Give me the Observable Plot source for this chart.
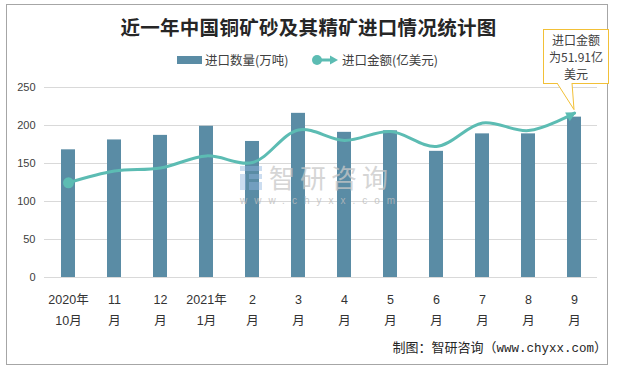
<!DOCTYPE html>
<html>
<head>
<meta charset="utf-8">
<script src="https://cdn.jsdelivr.net/npm/d3@7"></script>
<script src="https://cdn.jsdelivr.net/npm/@observablehq/plot@0.6"></script>
<style>
  html, body { margin: 0; padding: 0; background: #fff; }
  #wrap { position: relative; width: 617px; height: 369px; overflow: hidden; font-family: "Liberation Sans", "Noto Sans CJK SC", sans-serif; }
  #frame { position: absolute; left: 6px; top: 4px; width: 602px; height: 361px; border: 1px solid #a6a6a6; box-sizing: border-box; }
  #title { position: absolute; left: 0; width: 617px; top: 12px; text-align: center; font-family: "Noto Sans CJK SC", sans-serif; font-weight: 700; font-size: 19.5px; color: #262626; letter-spacing: 0.3px; }
  .leg { position: absolute; top: 51px; font-size: 12.5px; color: #404040; font-family: "Noto Sans CJK SC", sans-serif; line-height: 18px; }
  #footer { position: absolute; right: 10px; top: 337px; font-size: 13px; color: #262626; font-family: "Noto Sans CJK SC", sans-serif; }
  #footer .mono { font-family: "Liberation Mono", "DejaVu Sans Mono", monospace; font-size: 12.5px; }
  #callout { position: absolute; box-sizing: border-box; border: 1px solid #f2c037; background: #fff; text-align: center; font-size: 12px; line-height: 17px; color: #404040; font-family: "Noto Sans CJK SC", sans-serif; padding-top: 1px; }
  #wm1 { position: absolute; font-family: "Noto Sans CJK SC", sans-serif; font-size: 26px; line-height: 26px; color: #c8c8c8; opacity: 0.75; letter-spacing: 5px; }
  #wm2 { position: absolute; font-family: "Liberation Sans", sans-serif; font-size: 10px; line-height: 11px; color: #bdbdbd; opacity: 0.8; letter-spacing: 7px; }
  #wmlogo { position: absolute; width: 22px; height: 24px; opacity: 0.45; }
  #plot { position: absolute; left: 0; top: 0; }
  svg { overflow: visible; }
</style>
</head>
<body>
<div id="wrap">
  <div id="frame"></div>
  <div id="plot"></div>
  <div id="title">近一年中国铜矿砂及其精矿进口情况统计图</div>
  <div class="leg" style="left:177px;"><span style="display:inline-block;width:25px;height:8px;background:#5a8ca5;vertical-align:middle;margin-right:3px;margin-top:-3px;"></span>进口数量(万吨)</div>
  <div class="leg" style="left:311px;"><svg width="28" height="12" style="vertical-align:middle;margin-top:-3px;margin-right:3px;overflow:visible"><line x1="6" y1="6" x2="21" y2="6" stroke="#5cbcb3" stroke-width="3"/><circle cx="6" cy="6" r="5" fill="#5cbcb3"/><path d="M19,1.5 L27,6 L19,10.5 Z" fill="#5cbcb3"/></svg>进口金额(亿美元)</div>
  <svg id="wmlogo" viewBox="0 0 22 24"><rect x="0" y="0" width="22" height="5" fill="#8fb4e0"/><rect x="0" y="8" width="6" height="16" fill="#8fb4e0"/><rect x="9" y="8" width="13" height="5" fill="#8fb4e0"/><rect x="9" y="16" width="13" height="8" fill="#8fb4e0"/></svg>
  <div id="wm1">智研咨询</div>
  <div id="wm2">www.chyxx.com</div>
  <div id="footer">制图：智研咨询（<span class="mono">www.chyxx.com</span>）</div>
</div>
<script>
const months = ["2020年\n10月","11\n月","12\n月","2021年\n1月","2\n月","3\n月","4\n月","5\n月","6\n月","7\n月","8\n月","9\n月"];
const qty = [168, 181, 187, 199, 179, 216, 191, 193, 166, 189, 189, 211];
const amount = [29.9, 33.6, 34.6, 38.4, 36.3, 46.6, 43.3, 46.1, 41.4, 48.8, 46.4, 51.91];
const yTicks = [0, 50, 100, 150, 200, 250];
const amountAxisMax = 60;
const leftAxisMax = 250;

const data = months.map((m, i) => ({month: m, qty: qty[i], amount: amount[i], amtScaled: amount[i] * leftAxisMax / amountAxisMax}));

const barColor = "#5a8ca5";
const lineColor = "#5cbcb3";

const chart = Plot.plot({
  width: 617,
  height: 369,
  marginLeft: 44,
  marginRight: 20,
  marginTop: 87,
  marginBottom: 92,
  style: {fontFamily: "'Liberation Sans','Noto Sans CJK SC',sans-serif", background: "transparent"},
  x: {domain: months, type: "band", paddingInner: 0.7, paddingOuter: 0.35, label: null},
  y: {domain: [0, leftAxisMax], label: null, ticks: yTicks},
  marks: [
    Plot.gridY(yTicks, {stroke: "#d9d9d9", strokeOpacity: 1, strokeWidth: 1}),
    Plot.barY(data, {x: "month", y: "qty", fill: barColor}),
    Plot.line(data, {x: "month", y: "amtScaled", stroke: lineColor, strokeWidth: 3, curve: "catmull-rom", className: "amt-line"}),
    Plot.dot(data.slice(0, 1), {x: "month", y: "amtScaled", r: 5.5, fill: lineColor}),
    Plot.axisY({ticks: yTicks, tickSize: 0, tickPadding: 9, fontSize: 11, fill: "#404040"}),
    Plot.axisX({tickSize: 0, tickPadding: 12, fontSize: 12.5, fill: "#333", lineHeight: 1.65, fontFamily: "'Liberation Sans','Noto Sans CJK SC',sans-serif"})
  ]
});
document.getElementById("plot").appendChild(chart);

// arrowhead marker at end of the amount line
const svg = d3.select(chart);
const defs = svg.append("defs");
defs.append("marker")
  .attr("id", "arrowEnd")
  .attr("viewBox", "0 -5 10 10")
  .attr("refX", 8)
  .attr("refY", 0)
  .attr("markerWidth", 11)
  .attr("markerHeight", 10)
  .attr("markerUnits", "userSpaceOnUse")
  .attr("orient", "auto")
  .append("path")
  .attr("d", "M0,-5L10,0L0,5Z")
  .attr("fill", lineColor);
svg.selectAll("g.amt-line path").attr("marker-end", "url(#arrowEnd)");

// callout positioned from scales
const xs = chart.scale("x");
const ys = chart.scale("y");
const last = data[data.length - 1];
const tipX = xs.apply(last.month) + xs.bandwidth / 2;
const tipY = ys.apply(last.amtScaled) - 3;
const box = {left: 543, top: 29, width: 66, height: 55};
const co = document.createElement("div");
co.id = "callout";
co.style.left = box.left + "px";
co.style.top = box.top + "px";
co.style.width = box.width + "px";
co.style.height = box.height + "px";
co.innerHTML = "进口金额<br>为" + last.amount + "亿<br>美元";
document.getElementById("wrap").appendChild(co);
const tail = document.createElementNS("http://www.w3.org/2000/svg", "svg");
tail.setAttribute("width", 617); tail.setAttribute("height", 369);
tail.style.position = "absolute"; tail.style.left = "0"; tail.style.top = "0"; tail.style.pointerEvents = "none";
const by = box.top + box.height - 1;
tail.innerHTML = `<path d="M${box.left + 14},${by} L${tipX},${tipY} L${box.left + 29},${by}" fill="#fff" stroke="#f2c037" stroke-width="1"/>`;
document.getElementById("wrap").appendChild(tail);
// cover box bottom edge between the tail legs
const cover = document.createElement("div");
cover.style.cssText = `position:absolute;left:${box.left + 15}px;top:${by - 1}px;width:13px;height:2px;background:#fff;`;
document.getElementById("wrap").appendChild(cover);

// watermark
const logo = document.getElementById("wmlogo");
logo.style.left = "240px"; logo.style.top = "166px";
const wm1 = document.getElementById("wm1");
wm1.style.left = "269px"; wm1.style.top = "164px";
const wm2 = document.getElementById("wm2");
wm2.style.left = "240px"; wm2.style.top = "195px";
</script>
</body>
</html>
